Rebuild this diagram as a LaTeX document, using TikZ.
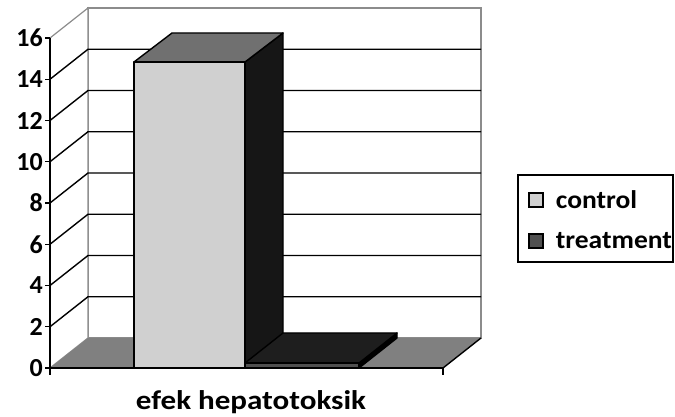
\documentclass[tikz,border=0pt]{standalone}
\usepackage{fontspec}
\setmainfont{Carlito}
\newfontfamily\legfont[FakeStretch=1.08]{Carlito}
\newfontfamily\catfont[FakeStretch=1.15]{Carlito}
\usetikzlibrary{positioning}

\definecolor{wallgray}{RGB}{140,140,140}
\definecolor{floorgray}{RGB}{128,128,128}
\definecolor{ctrlfront}{RGB}{208,208,208}
\definecolor{ctrltop}{RGB}{112,112,112}
\definecolor{ctrlside}{RGB}{22,22,22}
\definecolor{trtfront}{RGB}{80,80,80}
\definecolor{trttop}{RGB}{30,30,30}

\begin{document}
\begin{tikzpicture}[x=1pt,y=1pt,node distance=12pt,
    lbl/.style={font=\fontsize{26}{28}\selectfont\bfseries, inner sep=0pt},
    leglbl/.style={font=\legfont\fontsize{25.5}{28}\selectfont\bfseries, inner sep=0pt},
    catlbl/.style={font=\catfont\fontsize{27}{30}\selectfont\bfseries, inner sep=0pt},
    face/.style={draw=black, line width=1.4pt, line join=round},
    gridline/.style={draw=black, line width=1.4pt},
    legsq/.style={draw=black, line width=1.3pt, minimum size=14pt, inner sep=0pt}]
    \useasboundingbox (0,0) rectangle (675,417);
    % walls and floor
    \filldraw[fill=white, draw=wallgray, line width=1.2pt] (88,79) rectangle (481,409);
    \filldraw[fill=white, draw=wallgray, line width=1.2pt] (50,49) -- (88,79) -- (88,409) -- (50,379);
    \fill[floorgray] (50,49) -- (443,49) -- (481,79) -- (88,79) -- cycle;
    \draw[gridline] (443,49) -- (481,79);
    \foreach \v in {2,4,...,14}
        \draw[gridline] (50,{49+20.625*\v}) -- (88,{79+20.625*\v}) -- (481,{79+20.625*\v});
    % control bar
    \filldraw[face, fill=ctrlside] (245,49) -- (283,79) -- (283,384) -- (245,355) -- cycle;
    \filldraw[face, fill=ctrltop] (134,355) -- (245,355) -- (283,384) -- (172,384) -- cycle;
    \filldraw[face, fill=ctrlfront] (134,49) rectangle (245,355);
    % treatment bar
    \filldraw[face, fill=black] (359,49) -- (397,79) -- (397,84) -- (359,54) -- cycle;
    \filldraw[face, fill=trttop] (245,54) -- (359,54) -- (397,84) -- (283,84) -- cycle;
    \filldraw[face, fill=trtfront] (245,49) rectangle (359,54);
    % axes
    \draw[gridline] (50,379) -- (50,49) -- (443,49);
    \draw[gridline] (50,49) -- (50,42);
    \draw[gridline] (443,49) -- (443,42);
    \foreach \v in {0,2,...,16} {
        \draw[gridline] (50,{49+20.625*\v}) -- (45,{49+20.625*\v});
        \node[lbl, anchor=east] (y\v) at (43,{49+20.625*\v}) {\v};
    }
    \node[catlbl, anchor=base] (xlabel) at (251,7) {efek hepatotoksik};
    % legend
    \node[draw=black, line width=1.4pt, minimum width=155pt, minimum height=87pt] (legend) at (595.5,198.5) {};
    \node[legsq, fill=ctrlfront] (sqctrl) at (536,217) {};
    \node[leglbl, right=of sqctrl] (ctrl) {control};
    \node[legsq, fill=trtfront] (sqtrt) at (536,176) {};
    \node[leglbl, right=of sqtrt] (trt) {treatment};
\end{tikzpicture}
\end{document}
